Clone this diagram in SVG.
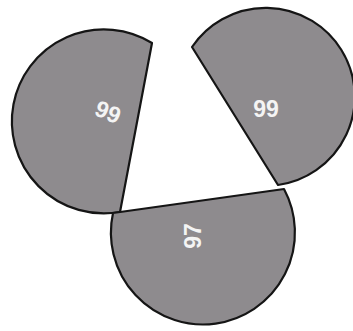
<svg xmlns="http://www.w3.org/2000/svg" width="353" height="331" viewBox="0 0 353 331">
<style>
.seg{fill:#8e8b8e;stroke:#151515;stroke-width:2.2;stroke-linejoin:round}
.lbl{font-family:"Liberation Sans",Arial,sans-serif;font-size:23px;font-weight:bold;fill:#f4f4f4;text-anchor:middle;dominant-baseline:central}
</style>
<rect width="353" height="331" fill="#ffffff"/>
<g id="left">
<path class="seg" d="M152,43 A92,92 0 1,0 120,212 Z"/>
<text class="lbl" transform="translate(108,112) rotate(22)">99</text>
</g>
<g id="right">
<path class="seg" d="M192,47 A89,89 0 1,1 278,185 Z"/>
<text class="lbl" transform="translate(266,109)">99</text>
</g>
<g id="bottom">
<path class="seg" d="M113,213 A92,92 0 1,0 284,189 Z"/>
<text class="lbl" transform="translate(193,236) rotate(-90)">97</text>
</g>
</svg>
